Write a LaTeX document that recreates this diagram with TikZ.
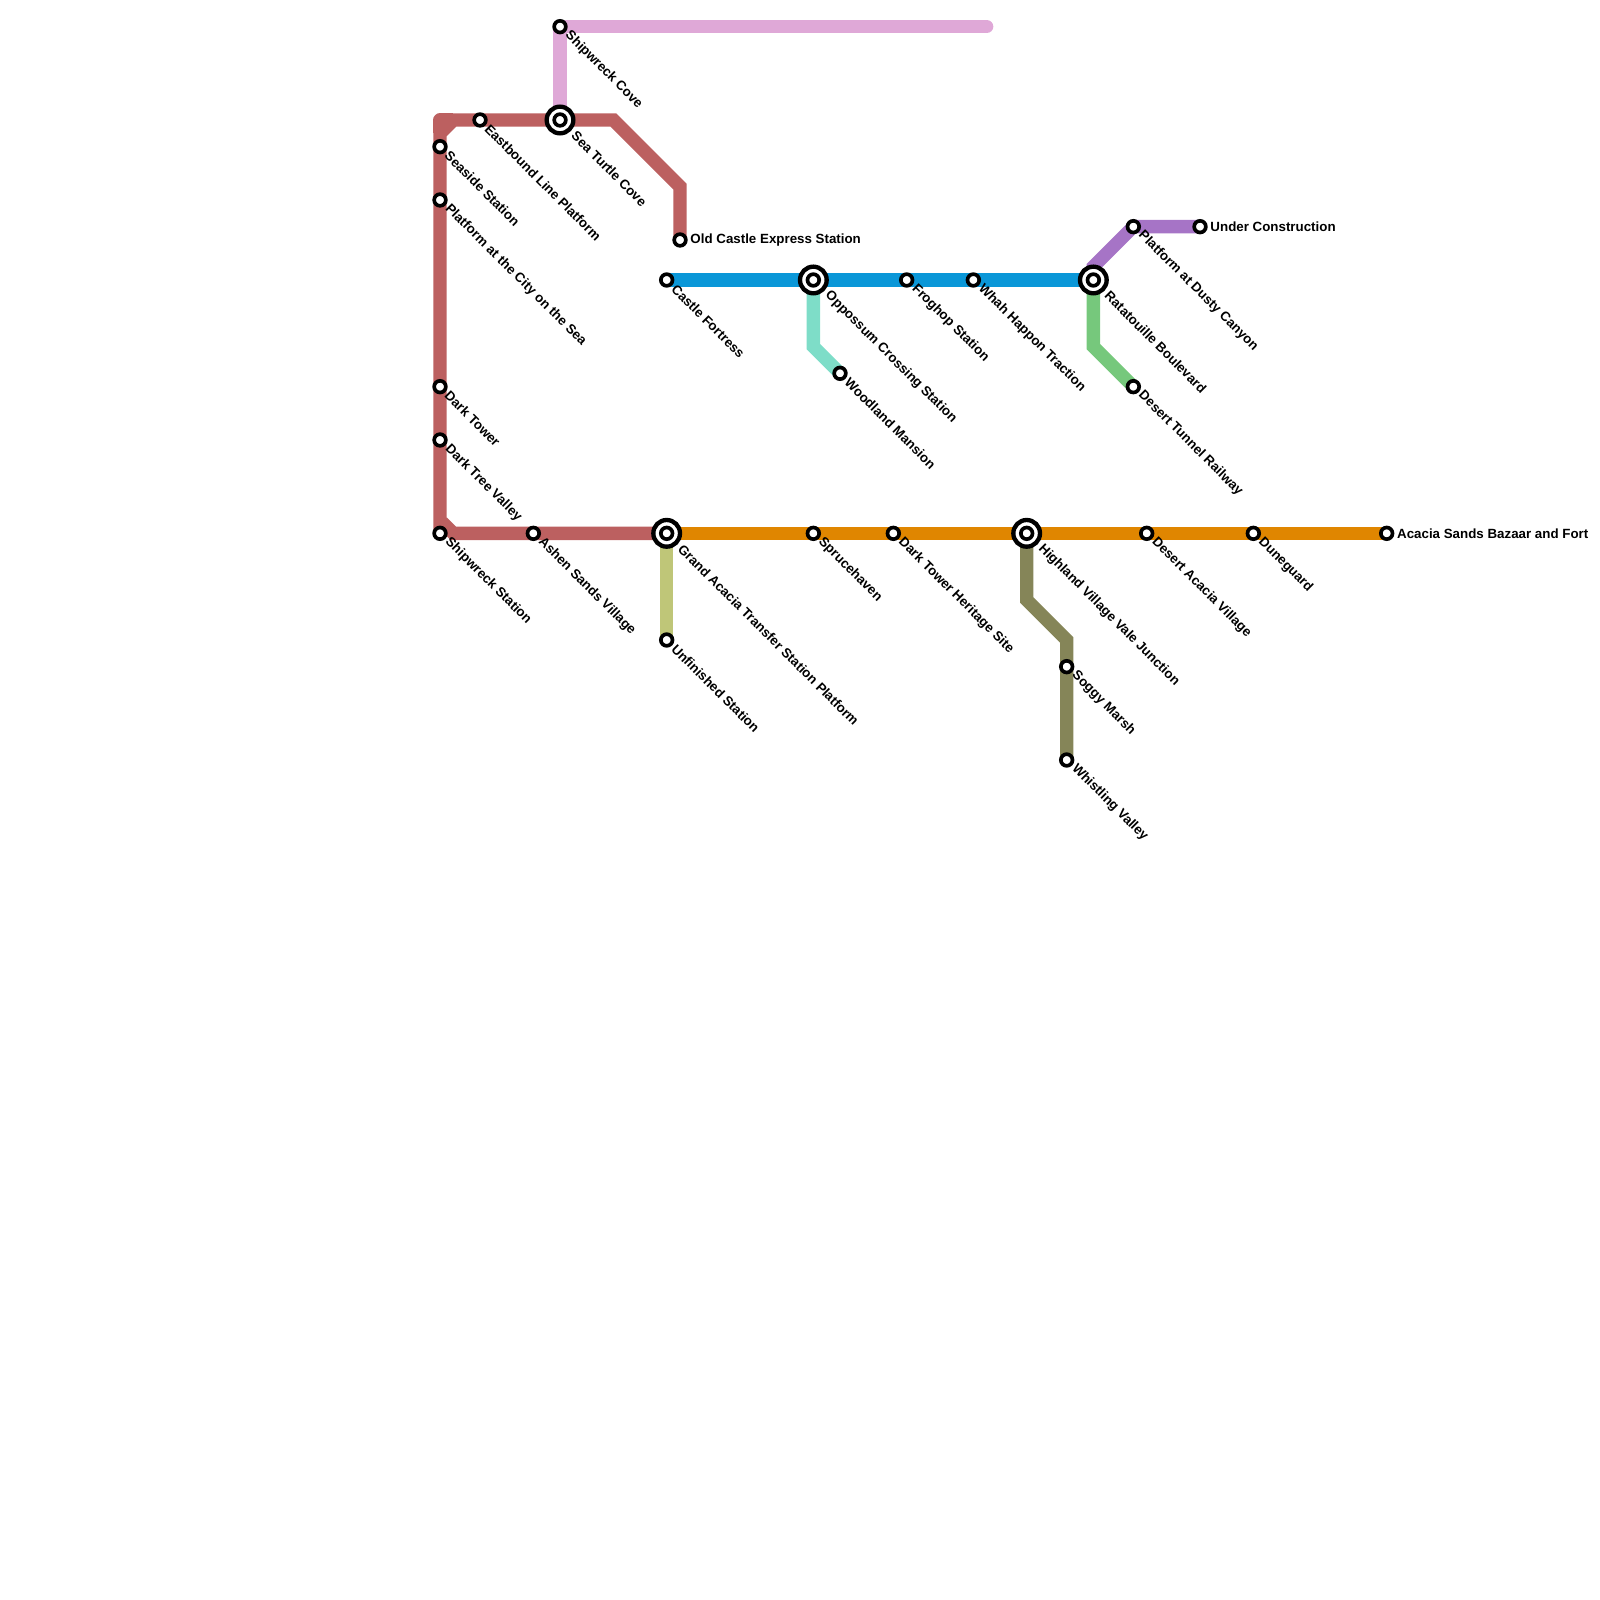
\documentclass[tikz,border=0pt]{standalone}
\usepackage{fontspec}
\setmainfont{Liberation Sans}
\usetikzlibrary{calc,backgrounds}
\definecolor{redline}{HTML}{BC6060}
\definecolor{pinkline}{HTML}{DFA8D7}
\definecolor{blueline}{HTML}{0A97D8}
\definecolor{orangeline}{HTML}{E08600}
\definecolor{tealline}{HTML}{7EDDC8}
\definecolor{greenline}{HTML}{76C87C}
\definecolor{purpleline}{HTML}{A674C6}
\definecolor{khakiline}{HTML}{BFC678}
\definecolor{oliveline}{HTML}{858558}
\begin{document}
\begin{tikzpicture}[x=0.2cm, y=-0.2cm, font=\fontsize{5.69}{6.5}\selectfont\bfseries,
  stop/.style={draw, circle, line width=0.055cm, fill=white, inner sep=0pt, minimum size=0.175cm},
  hub/.style={draw, circle, line width=0.065cm, fill=white, inner sep=0pt, minimum size=0.40cm},
  dlbl/.style={anchor=west, rotate=-45, inner sep=0pt},
  rlbl/.style={anchor=west, inner sep=0pt},
  route/.style={line width=0.2cm, line join=miter}]
\useasboundingbox (0,0) rectangle (120,120);
% red line
\node[stop] (seaside) at (33,11) {};
\node[dlbl] (seasideL) at ($(seaside)+(0.52,0.49)$) {Seaside Station};
\node[stop] (cityplat) at (33,15) {};
\node[dlbl] (cityplatL) at ($(cityplat)+(0.52,0.49)$) {Platform at the City on the Sea};
\node[stop] (darktower) at (33,29) {};
\node[dlbl] (darktowerL) at ($(darktower)+(0.52,0.49)$) {Dark Tower};
\node[stop] (darktree) at (33,33) {};
\node[dlbl] (darktreeL) at ($(darktree)+(0.52,0.49)$) {Dark Tree Valley};
\node[stop] (shipstn) at (33,40) {};
\node[dlbl] (shipstnL) at ($(shipstn)+(0.52,0.49)$) {Shipwreck Station};
\node[stop] (ashen) at (40,40) {};
\node[dlbl] (ashenL) at ($(ashen)+(0.52,0.49)$) {Ashen Sands Village};
\node[stop] (eastbound) at (36,9) {};
\node[dlbl] (eastboundL) at ($(eastbound)+(0.52,0.49)$) {Eastbound Line Platform};
\node[stop] (oldcastle) at (51,18) {};
\node[rlbl] (oldcastleL) at ($(oldcastle)+(0.75,0)$) {Old Castle Express Station};
% pink line
\node[hub] (turtleR) at (42,9) {};
\node[stop] (turtle) at (42,9) {};
\node[dlbl] (turtleL) at ($(turtle)+(1.02,0.99)$) {Sea Turtle Cove};
\node[stop] (shipcove) at (42,2) {};
\node[dlbl] (shipcoveL) at ($(shipcove)+(0.52,0.49)$) {Shipwreck Cove};
\coordinate (pinkend) at (74,2);
% blue line
\node[stop] (castle) at (50,21) {};
\node[dlbl] (castleL) at ($(castle)+(0.52,0.49)$) {Castle Fortress};
\node[hub] (oppossumR) at (61,21) {};
\node[stop] (oppossum) at (61,21) {};
\node[dlbl] (oppossumL) at ($(oppossum)+(1.02,0.99)$) {Oppossum Crossing Station};
\node[stop] (froghop) at (68,21) {};
\node[dlbl] (froghopL) at ($(froghop)+(0.52,0.49)$) {Froghop Station};
\node[stop] (whah) at (73,21) {};
\node[dlbl] (whahL) at ($(whah)+(0.52,0.49)$) {Whah Happon Traction};
\node[hub] (ratatR) at (82,21) {};
\node[stop] (ratat) at (82,21) {};
\node[dlbl] (ratatL) at ($(ratat)+(1.02,0.99)$) {Ratatouille Boulevard};
% branches off blue
\node[stop] (woodland) at (63,28) {};
\node[dlbl] (woodlandL) at ($(woodland)+(0.52,0.49)$) {Woodland Mansion};
\node[stop] (tunnel) at (85,29) {};
\node[dlbl] (tunnelL) at ($(tunnel)+(0.52,0.49)$) {Desert Tunnel Railway};
\node[stop] (dusty) at (85,17) {};
\node[dlbl] (dustyL) at ($(dusty)+(0.52,0.49)$) {Platform at Dusty Canyon};
\node[stop] (constr) at (90,17) {};
\node[rlbl] (constrL) at ($(constr)+(0.75,0)$) {Under Construction};
% orange line
\node[hub] (grandR) at (50,40) {};
\node[stop] (grand) at (50,40) {};
\node[dlbl] (grandL) at ($(grand)+(1.02,0.99)$) {Grand Acacia Transfer Station Platform};
\node[stop] (spruce) at (61,40) {};
\node[dlbl] (spruceL) at ($(spruce)+(0.52,0.49)$) {Sprucehaven};
\node[stop] (heritage) at (67,40) {};
\node[dlbl] (heritageL) at ($(heritage)+(0.52,0.49)$) {Dark Tower Heritage Site};
\node[hub] (highlandR) at (77,40) {};
\node[stop] (highland) at (77,40) {};
\node[dlbl] (highlandL) at ($(highland)+(1.02,0.99)$) {Highland Village Vale Junction};
\node[stop] (acacia) at (86,40) {};
\node[dlbl] (acaciaL) at ($(acacia)+(0.52,0.49)$) {Desert Acacia Village};
\node[stop] (dune) at (94,40) {};
\node[dlbl] (duneL) at ($(dune)+(0.52,0.49)$) {Duneguard};
\node[stop] (bazaar) at (104,40) {};
\node[rlbl] (bazaarL) at ($(bazaar)+(0.75,0)$) {Acacia Sands Bazaar and Fort};
% branches off orange
\node[stop] (unfinished) at (50,48) {};
\node[dlbl] (unfinishedL) at ($(unfinished)+(0.52,0.49)$) {Unfinished Station};
\node[stop] (soggy) at (80,50) {};
\node[dlbl] (soggyL) at ($(soggy)+(0.52,0.49)$) {Soggy Marsh};
\node[stop] (whistling) at (80,57) {};
\node[dlbl] (whistlingL) at ($(whistling)+(0.52,0.49)$) {Whistling Valley};
% routes go under the stops
\begin{pgfonlayer}{background}
\draw[route, redline] (shipstn.center) -- (33,10) -- (34,9) -- (eastbound.center) -- (turtle.center) -- (46,9) -- (51,14) -- (oldcastle.center);
\draw[route, redline, line join=round] (33,10) -- (33,9) -- (34,9);
\draw[route, redline] (33.15,39.15) -- (34,40) -- (ashen.center) -- (grand.center);
\draw[route, pinkline, line cap=round] (pinkend) -- (shipcove.center);
\draw[route, pinkline] (shipcove.center) -- (turtle.center);
\draw[route, blueline] (castle.center) -- (ratat.center);
\draw[route, tealline] (oppossum.center) -- (61,26) -- (woodland.center);
\draw[route, greenline] (ratat.center) -- (82,26) -- (tunnel.center);
\draw[route, purpleline] (ratat.center) -- (82,20) -- (dusty.center) -- (constr.center);
\draw[route, orangeline] (grand.center) -- (bazaar.center);
\draw[route, khakiline] (grand.center) -- (unfinished.center);
\draw[route, oliveline] (highland.center) -- (77,45) -- (80,48) -- (whistling.center);
\end{pgfonlayer}
\end{tikzpicture}
\end{document}
